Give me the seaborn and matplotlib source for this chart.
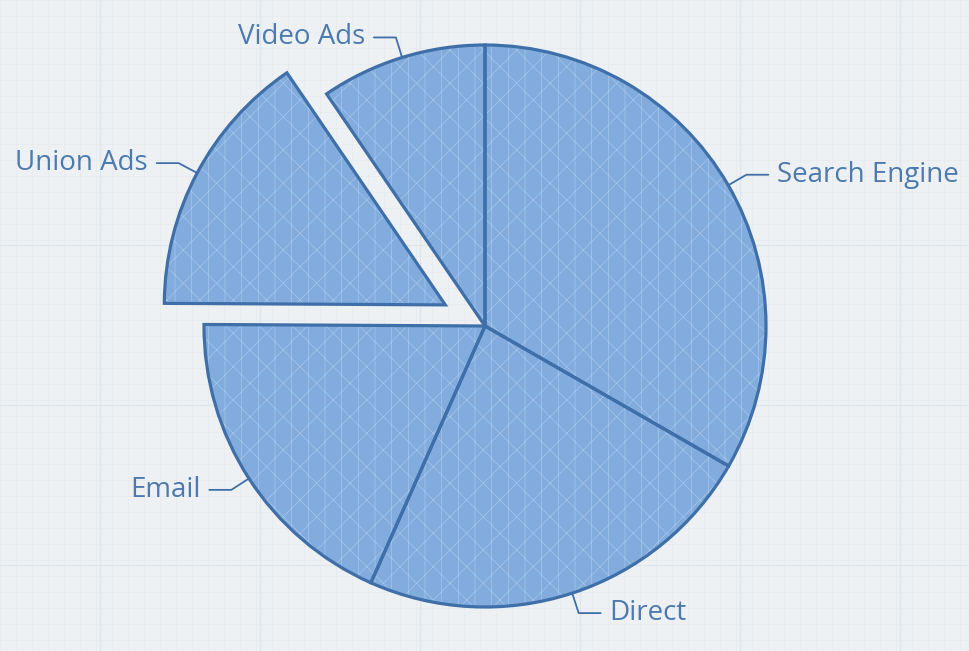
import numpy as np
import seaborn as sns
import matplotlib.pyplot as plt

# traffic sources
names = ['Search Engine', 'Direct', 'Email', 'Union Ads', 'Video Ads']
values = [1048, 735, 580, 484, 300]
explode = [0, 0, 0, 0.16, 0]

sns.set_theme(style='white')
plt.rcParams['font.family'] = ['Open Sans', 'DejaVu Sans']
plt.rcParams['hatch.linewidth'] = 0.5

bg = '#eef1f3'
face = '#82acdd'
edge = '#3f6fa8'
text_col = '#4c79ae'

fig = plt.figure(figsize=(9.7, 6.51), dpi=100, facecolor=bg)
ax = fig.add_axes([0, 0, 1, 1])
ax.set_facecolor(bg)

# faint paper grid
for gx in np.arange(0, 971, 16):
    ax.axvline(gx, color='#e6eaed', lw=0.5, zorder=0)
for gy in np.arange(651, -1, -16):
    ax.axhline(gy, color='#e6eaed', lw=0.5, zorder=0)
for gx in np.arange(100, 971, 160):
    ax.axvline(gx, color='#dde6ec', lw=0.9, zorder=0)
for gy in np.arange(651 - 245, -1, -160):
    ax.axhline(gy, color='#dde6ec', lw=0.9, zorder=0)

cx, cy, r = 485, 651 - 326, 281
offsets = [e * r for e in explode]  # pie explode is in data units

# textured fill
wedges, _ = ax.pie(values, explode=offsets, startangle=90, counterclock=False,
                   center=(cx, cy), radius=r, frame=True,
                   wedgeprops=dict(facecolor=face, edgecolor='#a6c6ec', linewidth=0, hatch='x|'))
# outlines
ax.pie(values, explode=offsets, startangle=90, counterclock=False,
       center=(cx, cy), radius=r, frame=True,
       wedgeprops=dict(fill=False, edgecolor=edge, linewidth=2.3))

ax.set_xlim(0, 970)
ax.set_ylim(0, 651)
ax.set_aspect('equal')
ax.axis('off')

# labels with leader lines
for w, name in zip(wedges, names):
    mid = np.deg2rad((w.theta1 + w.theta2) / 2)
    wx, wy = w.center
    px, py = wx + r * np.cos(mid), wy + r * np.sin(mid)
    bx, by = wx + (r + 21) * np.cos(mid), wy + (r + 21) * np.sin(mid)
    side = 1 if np.cos(mid) >= 0 else -1
    ex = bx + side * 22
    ax.plot([px, bx, ex], [py, by, by], color=edge, lw=1.3, zorder=5)
    ax.text(ex + side * 9, by, name, color=text_col, fontsize=20,
            ha='left' if side > 0 else 'right', va='center')

fig.savefig('out.png', dpi=100, facecolor=bg)
